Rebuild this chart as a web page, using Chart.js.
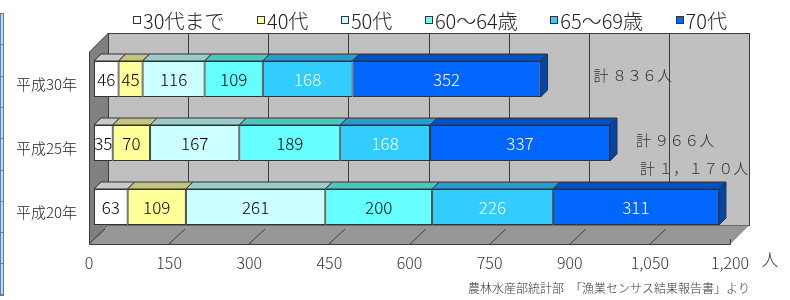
<!DOCTYPE html>
<html>
<head>
<meta charset="utf-8">
<script src="https://cdn.jsdelivr.net/npm/chart.js@4.4.0/dist/chart.umd.min.js"></script>
<style>
  html, body { margin: 0; padding: 0; background: #fff; }
  .wrap { position: relative; width: 790px; height: 300px; }
</style>
</head>
<body>
<div class="wrap"><canvas id="myChart" width="790" height="300"></canvas></div>
<script>
// data
const years = ["平成30年", "平成25年", "平成20年"];
const ageGroups = ["30代まで", "40代", "50代", "60～64歳", "65～69歳", "70代"];
const upTo30s = [46, 35, 63];
const forties = [45, 70, 109];
const fifties = [116, 167, 261];
const age60to64 = [109, 189, 200];
const age65to69 = [168, 168, 226];
const seventies = [352, 337, 311];
const xMin = 0;
const xMax = 1200;
const xStep = 150;
const unitLabel = "人";
const sourceNote = "農林水産部統計部　「漁業センサス結果報告書」より";

// styles
const FONT = "'Noto Sans CJK JP', 'Noto Sans', sans-serif";
const frontColors = ["#ffffff", "#ffff99", "#ccffff", "#66ffff", "#33ccff", "#0066ff"];
const topColors = ["#c8c8c8", "#c4c47a", "#99cccc", "#4cc4c4", "#2a9ccc", "#0050c8"];
const sideColor = "#0045aa";
const labelColors = ["#000", "#000", "#000", "#000", "#fff", "#fff"];
const totalOffsets = [[53, -4], [26, -3], [-79, -39]]; // where each 計 note sits
const DEPTH = 7;        // bar depth
const FRONT = 5;        // front plane offset from bar plane
const BACK = 14;        // back wall offset from bar plane

const series = [upTo30s, forties, fifties, age60to64, age65to69, seventies];
const totals = years.map((y, i) => series.reduce((s, arr) => s + arr[i], 0));

const toWide = (str) => str.replace(/[0-9]/g, (c) => String.fromCharCode(c.charCodeAt(0) + 0xfee0)).replace(/,/g, "，");

const data = {
  labels: years,
  datasets: series.map((values, i) => ({
    label: ageGroups[i],
    data: values,
    backgroundColor: frontColors[i],
    borderColor: "#333",
    borderWidth: 1,
    borderSkipped: false,
    categoryPercentage: 1,
    barPercentage: 0.5625,
  })),
};

const scenery = {
  id: "scenery",
  beforeDraw(chart) {
    const { ctx, chartArea: a, scales: { x } } = chart;
    ctx.save();
    // slide edge strip on the left
    ctx.fillStyle = "#c4daf4";
    ctx.fillRect(0, 13, 3, 282);
    ctx.strokeStyle = "#5a7fb0";
    ctx.lineWidth = 1;
    ctx.strokeRect(0.5, 13.5, 3, 281);
    for (let y = 13; y <= 295; y += 31.3) {
      ctx.beginPath();
      ctx.moveTo(0, Math.round(y) + 0.5);
      ctx.lineTo(4, Math.round(y) + 0.5);
      ctx.stroke();
    }

    const fl = a.left - FRONT, fr = a.right - FRONT, fb = a.bottom + FRONT, ft = a.top + FRONT;
    const bl = a.left + BACK, br = a.right + BACK, bb = a.bottom - BACK, bt = a.top - BACK;
    ctx.strokeStyle = "#3c3c3c";
    // back wall
    ctx.fillStyle = "#c0c0c0";
    ctx.fillRect(bl, bt, br - bl, bb - bt);
    ctx.strokeRect(bl + 0.5, bt + 0.5, br - bl, bb - bt);
    // left wall
    ctx.fillStyle = "#808080";
    ctx.beginPath();
    ctx.moveTo(fl + 0.5, ft); ctx.lineTo(bl + 0.5, bt); ctx.lineTo(bl + 0.5, bb); ctx.lineTo(fl + 0.5, fb);
    ctx.closePath(); ctx.fill(); ctx.stroke();
    // floor
    ctx.fillStyle = "#979797";
    ctx.beginPath();
    ctx.moveTo(fl, fb + 0.5); ctx.lineTo(fr, fb + 0.5); ctx.lineTo(br, bb + 0.5); ctx.lineTo(bl, bb + 0.5);
    ctx.closePath(); ctx.fill();
    ctx.beginPath();
    ctx.moveTo(fl, fb + 0.5); ctx.lineTo(fr + 0.5, fb + 0.5); ctx.lineTo(fr + 0.5, fb - 5);
    ctx.stroke();
    // grid lines on back wall + ticks on floor
    x.ticks.forEach((t) => {
      const px = Math.round(x.getPixelForValue(t.value));
      if (t.value > xMin && t.value < xMax) {
        ctx.beginPath();
        ctx.moveTo(px + BACK + 0.5, bt);
        ctx.lineTo(px + BACK + 0.5, bb);
        ctx.stroke();
      }
      if (t.value < xMax) {
        ctx.beginPath();
        ctx.moveTo(px - FRONT, fb);
        ctx.lineTo(px - FRONT + 16, fb - 15);
        ctx.stroke();
      }
    });
    ctx.restore();
  },
  afterDatasetsDraw(chart) {
    const { ctx, scales: { x, y } } = chart;
    ctx.save();
    ctx.strokeStyle = "#333";
    ctx.lineWidth = 1;
    const last = chart.data.datasets.length - 1;
    chart.data.datasets.forEach((ds, di) => {
      chart.getDatasetMeta(di).data.forEach((bar) => {
        const x1 = Math.min(bar.base, bar.x), x2 = Math.max(bar.base, bar.x);
        const yT = bar.y - bar.height / 2, yB = bar.y + bar.height / 2;
        ctx.fillStyle = topColors[di];
        ctx.beginPath();
        ctx.moveTo(x1, yT); ctx.lineTo(x2, yT); ctx.lineTo(x2 + DEPTH, yT - DEPTH); ctx.lineTo(x1 + DEPTH, yT - DEPTH);
        ctx.closePath(); ctx.fill(); ctx.stroke();
        if (di === last) {
          ctx.fillStyle = sideColor;
          ctx.beginPath();
          ctx.moveTo(x2, yT); ctx.lineTo(x2 + DEPTH, yT - DEPTH); ctx.lineTo(x2 + DEPTH, yB - DEPTH); ctx.lineTo(x2, yB);
          ctx.closePath(); ctx.fill(); ctx.stroke();
        }
      });
    });
    // value labels
    ctx.font = "300 17px " + FONT;
    ctx.textAlign = "center";
    ctx.textBaseline = "middle";
    chart.data.datasets.forEach((ds, di) => {
      chart.getDatasetMeta(di).data.forEach((bar, i) => {
        ctx.fillStyle = labelColors[di];
        ctx.fillText(String(ds.data[i]), (bar.base + bar.x) / 2, bar.y + 1);
      });
    });
    // totals
    ctx.font = "300 15px " + FONT;
    ctx.textAlign = "left";
    ctx.fillStyle = "#333";
    totals.forEach((tot, i) => {
      const [dx, dy] = totalOffsets[i];
      ctx.fillText("計 " + toWide(tot.toLocaleString("en-US")) + "人", x.getPixelForValue(tot) + dx, y.getPixelForValue(i) + dy);
    });
    // unit
    ctx.font = "300 17px " + FONT;
    ctx.textAlign = "center";
    ctx.fillText(unitLabel, x.getPixelForValue(xMax) + 35, 260);
    // source
    ctx.font = "300 12px " + FONT;
    ctx.textAlign = "right";
    ctx.fillText(sourceNote, x.getPixelForValue(xMax) + BACK + 1, 288);
    // legend
    ctx.font = "300 20px " + FONT;
    ctx.textAlign = "left";
    const box = 7, gapBox = 3, span = 594, startX = 133, ly = 20;
    const widths = chart.data.datasets.map((ds) => box + gapBox + ctx.measureText(ds.label).width);
    const gap = (span - widths.reduce((s, w) => s + w, 0)) / (widths.length - 1);
    let cx = startX;
    chart.data.datasets.forEach((ds, di) => {
      ctx.fillStyle = ds.backgroundColor;
      ctx.fillRect(Math.round(cx) + 0.5, ly - 4 + 0.5, box, box);
      ctx.strokeStyle = "#333";
      ctx.strokeRect(Math.round(cx) + 0.5, ly - 4 + 0.5, box, box);
      ctx.fillStyle = "#222";
      ctx.fillText(ds.label, cx + box + gapBox, ly + 1);
      cx += widths[di] + gap;
    });
    ctx.restore();
  },
};

const config = {
  type: "bar",
  data,
  options: {
    indexAxis: "y",
    responsive: false,
    animation: false,
    layout: { padding: { left: 0, right: 55, top: 47, bottom: 0 } },
    plugins: {
      legend: { display: false },
      tooltip: { enabled: false },
    },
    scales: {
      x: {
        stacked: true,
        min: xMin,
        max: xMax,
        grid: { display: false, drawTicks: false },
        border: { display: false },
        ticks: {
          stepSize: xStep,
          padding: 14,
          labelOffset: -FRONT,
          color: "#333",
          font: { family: FONT, size: 16, weight: "300" },
        },
        afterFit: (s) => { s.height = 61; },
      },
      y: {
        stacked: true,
        grid: { display: false, drawTicks: false },
        border: { display: false },
        ticks: {
          padding: 17,
          labelOffset: FRONT,
          color: "#222",
          font: { family: FONT, size: 15, weight: "300" },
        },
        afterFit: (s) => { s.width = 94; },
      },
    },
  },
  plugins: [scenery],
};

let myChart = new Chart(document.getElementById("myChart"), config);
</script>
</body>
</html>
